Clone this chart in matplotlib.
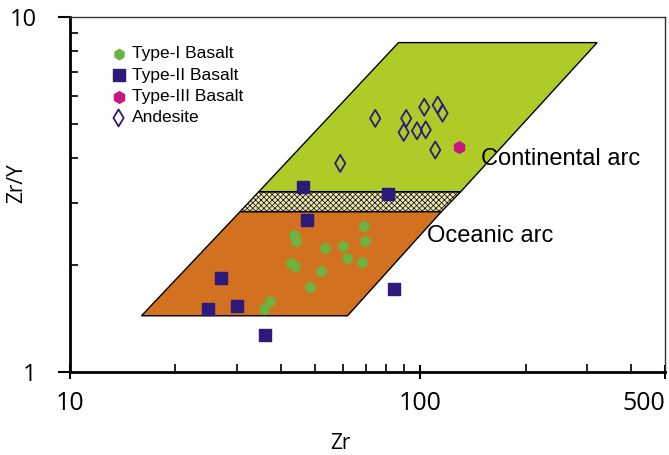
import matplotlib.pyplot as plt
import matplotlib as mpl
from matplotlib.patches import Polygon
from matplotlib.ticker import FixedLocator, NullFormatter

type1_zr = [68.9, 43.7, 44.2, 69.6, 53.3, 60.0, 61.7, 68.0, 42.7, 43.9, 52.1, 48.6, 37.3, 35.7]
type1_zry = [2.58, 2.43, 2.34, 2.34, 2.23, 2.26, 2.10, 2.04, 2.03, 1.99, 1.93, 1.74, 1.58, 1.50]

type2_zr = [46.4, 80.9, 47.5, 26.9, 29.9, 24.8, 36.0, 83.9]
type2_zry = [3.31, 3.17, 2.68, 1.84, 1.53, 1.50, 1.27, 1.71]

type3_zr = [129.2]
type3_zry = [4.31]

andes_zr = [74.4, 91.2, 102.7, 112.2, 115.8, 89.7, 97.9, 103.7, 110.4, 59.1]
andes_zry = [5.18, 5.18, 5.57, 5.65, 5.36, 4.73, 4.78, 4.81, 4.22, 3.87]

# limites de los campos (Zr, Zr/Y)
oceanic_field = [(16.0, 1.44), (62.0, 1.44), (115.0, 2.83), (30.6, 2.83)]
transition_field = [(30.6, 2.83), (115.0, 2.83), (130.5, 3.22), (34.6, 3.22)]
continental_field = [(34.6, 3.22), (130.5, 3.22), (320.0, 8.47), (86.7, 8.47)]

mpl.rcParams['hatch.color'] = '#b3b184'
mpl.rcParams['hatch.linewidth'] = 0.5

fig = plt.figure(figsize=(6.69, 4.55), dpi=100)
ax = fig.add_axes([70 / 669, 1 - 372 / 455, 595 / 669, 355 / 455])

ax.add_patch(Polygon(oceanic_field, closed=True, facecolor='#D2711F', edgecolor='black', lw=1, zorder=1))
ax.add_patch(Polygon(transition_field, closed=True, facecolor='#EAE7AE', edgecolor='black', lw=1,
                     hatch='xxxxxx', zorder=1))
ax.add_patch(Polygon(continental_field, closed=True, facecolor='#AFCB28', edgecolor='black', lw=1, zorder=1))

ax.scatter(type1_zr, type1_zry, marker='h', s=55, color='#6DB33F', label='Type-I Basalt', zorder=3)
ax.scatter(type2_zr, type2_zry, marker='s', s=65, color='#2E1A7A', label='Type-II Basalt', zorder=3)
ax.scatter(type3_zr, type3_zry, marker='h', s=70, color='#C8177F', label='Type-III Basalt', zorder=3)
ax.scatter(andes_zr, andes_zry, marker='d', s=75, facecolor='none', edgecolor='#2E1A7A', lw=1.3,
           label='Andesite', zorder=3)

ax.text(149, 3.98, 'Continental arc', fontsize=17, family='Liberation Sans', va='center')
ax.text(104.7, 2.42, 'Oceanic arc', fontsize=17, family='Liberation Sans', va='center')

ax.set_xscale('log')
ax.set_yscale('log')
ax.set_xlim(10, 500)
ax.set_ylim(1, 10)

ax.xaxis.set_major_locator(FixedLocator([10, 100, 500]))
ax.xaxis.set_minor_locator(FixedLocator([20, 30, 40, 50, 60, 70, 80, 90, 200, 300, 400]))
ax.xaxis.set_minor_formatter(NullFormatter())
ax.set_xticklabels(['10', '100', '500'])
ax.yaxis.set_major_locator(FixedLocator([1, 10]))
ax.yaxis.set_minor_locator(FixedLocator([2, 3, 4, 5, 6, 7, 8, 9]))
ax.yaxis.set_minor_formatter(NullFormatter())
ax.set_yticklabels(['1', '10'])

ax.tick_params(axis='x', which='major', direction='inout', length=10, width=1.5, labelsize=18, pad=9)
ax.tick_params(axis='y', which='major', direction='out', length=9, width=1.5, labelsize=17, pad=15)
ax.tick_params(which='minor', direction='in', length=5.5, width=1.2)
for lab in ax.get_xticklabels() + ax.get_yticklabels():
    lab.set_family('Open Sans')
ax.get_xticklabels()[-1].set_horizontalalignment('right')

ax.set_xlabel('Zr', fontsize=15, family='Open Sans')
ax.set_ylabel('Zr/Y', fontsize=15, family='Open Sans')
ax.xaxis.set_label_coords(0.455, -0.172)
ax.yaxis.set_label_coords(-0.072, 0.532)

ax.spines['left'].set_linewidth(2)
ax.spines['bottom'].set_linewidth(2)
ax.spines['top'].set_linewidth(1)
ax.spines['right'].set_linewidth(1)
ax.spines['top'].set_color('#333333')
ax.spines['right'].set_color('#333333')

ax.legend(loc='upper left', bbox_to_anchor=(0.067, 0.918), frameon=False, borderpad=0, borderaxespad=0,
          handletextpad=0.3, labelspacing=0.36, prop={'family': 'Liberation Sans', 'size': 12.5},
          handlelength=1)

fig.savefig('out.png', dpi=100)
